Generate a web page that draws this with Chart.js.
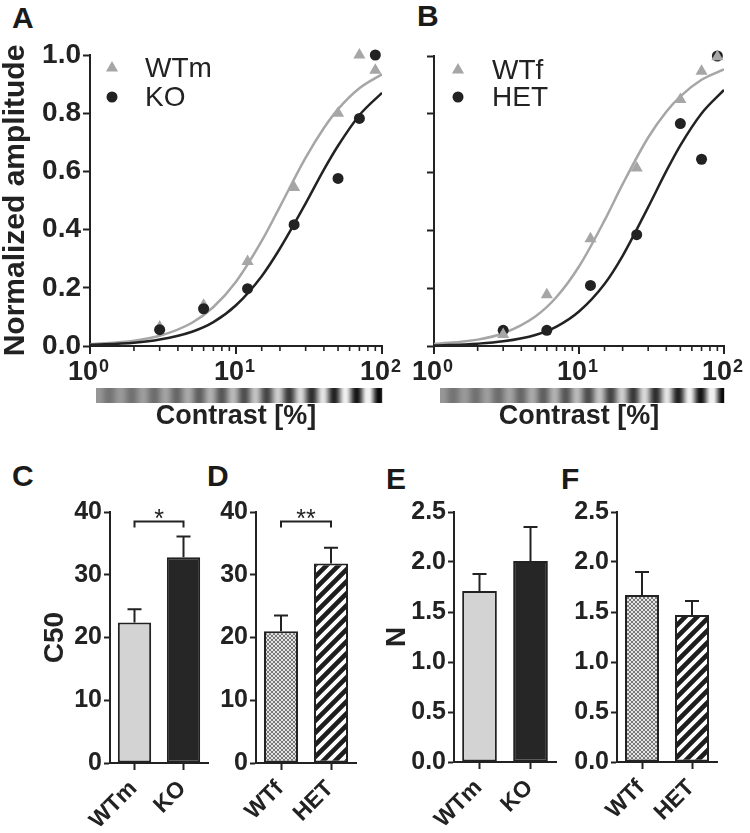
<!DOCTYPE html>
<html>
<head>
<meta charset="utf-8">
<script src="https://cdn.jsdelivr.net/npm/chart.js@4.4.0/dist/chart.umd.min.js"></script>
<style>
  body { margin: 0; background: #fff; width: 750px; height: 833px; position: relative; overflow: hidden; font-family: "Liberation Sans", Arial, sans-serif; }
  canvas { position: absolute; }
  .panel { position: absolute; font-weight: bold; font-size: 30px; line-height: 1; color: #1a1a1a; }
</style>
</head>
<body>
<div class="panel" style="left:12px;top:3px">A</div>
<div class="panel" style="left:417px;top:1px">B</div>
<div class="panel" style="left:12px;top:461px">C</div>
<div class="panel" style="left:207px;top:461px">D</div>
<div class="panel" style="left:386px;top:464px">E</div>
<div class="panel" style="left:561px;top:464px">F</div>

<canvas id="chartA" width="405" height="445" style="left:0;top:0"></canvas>
<canvas id="chartB" width="345" height="445" style="left:405px;top:0"></canvas>
<canvas id="chartC" width="215" height="378" style="left:0;top:455px"></canvas>
<canvas id="chartD" width="150" height="378" style="left:215px;top:455px"></canvas>
<canvas id="chartE" width="195" height="378" style="left:370px;top:455px"></canvas>
<canvas id="chartF" width="185" height="378" style="left:565px;top:455px"></canvas>

<script>
Chart.defaults.font.family = '"Liberation Sans", Arial, sans-serif';
Chart.defaults.color = '#222';

// contrast response data (A, B)
const contrast = [3, 6, 12, 25, 50, 70, 90];
const wtmAmp = [0.065, 0.14, 0.29, 0.545, 0.80, 1.0, 0.948];
const koAmp = [0.056, 0.128, 0.197, 0.417, 0.576, 0.782, 1.0];
const wtfAmp = [0.04, 0.177, 0.37, 0.614, 0.85, 0.947, 0.997];
const hetAmp = [0.054, 0.054, 0.209, 0.384, 0.767, 0.644, 1.0];

// fitted curves
const fitX = [1, 2, 3, 5, 7, 10, 15, 20, 30, 40, 50, 70, 100];
const wtmFit = [0.006, 0.018, 0.035, 0.080, 0.134, 0.221, 0.361, 0.479, 0.647, 0.749, 0.814, 0.886, 0.934];
const koFit = [0.004, 0.011, 0.022, 0.049, 0.082, 0.140, 0.240, 0.335, 0.490, 0.606, 0.688, 0.793, 0.870];
const wtfFit = [0.007, 0.022, 0.044, 0.102, 0.169, 0.274, 0.433, 0.558, 0.719, 0.808, 0.861, 0.918, 0.954];
const hetFit = [0.002, 0.008, 0.016, 0.038, 0.067, 0.119, 0.214, 0.311, 0.479, 0.603, 0.692, 0.802, 0.883];

// bar data (C-F)
const maleLabels = ['WTm', 'KO'];
const femaleLabels = ['WTf', 'HET'];
const c50Male = [22.4, 32.8];
const c50MaleErr = [2.1, 3.3];
const c50Female = [21.0, 31.8];
const c50FemaleErr = [2.5, 2.5];
const nMale = [1.71, 2.01];
const nMaleErr = [0.17, 0.34];
const nFemale = [1.67, 1.47];
const nFemaleErr = [0.23, 0.14];

const DARK = '#222';
const GRAY = '#a6a6a6';
const FONT = '"Liberation Sans", Arial, sans-serif';

function pts(xs, ys) {
    return xs.map((x, i) => ({ x: x, y: ys[i] }));
}

function decade(v) {
    const e = Math.log10(v);
    return Math.abs(e - Math.round(e)) < 1e-6 ? Math.round(e) : null;
}

// short minor ticks, longer decade ticks and 10^n labels on the log axis
const logTicks = {
    id: 'logTicks',
    afterDraw(chart) {
        const s = chart.scales.x;
        const ctx = chart.ctx;
        ctx.save();
        ctx.strokeStyle = DARK;
        ctx.fillStyle = DARK;
        s.ticks.forEach(t => {
            const e = decade(t.value);
            const x = s.getPixelForValue(t.value);
            ctx.lineWidth = e !== null ? 2 : 1.6;
            ctx.beginPath();
            ctx.moveTo(x, s.top);
            ctx.lineTo(x, s.top + (e !== null ? 8 : 5));
            ctx.stroke();
            if (e !== null) {
                ctx.textBaseline = 'alphabetic';
                ctx.font = 'bold 27px ' + FONT;
                ctx.textAlign = 'right';
                ctx.fillText('10', x + 8, s.top + 34);
                ctx.font = 'bold 18px ' + FONT;
                ctx.textAlign = 'left';
                ctx.fillText(String(e), x + 9, s.top + 26);
            }
        });
        ctx.restore();
    }
};

// the contrast grating strip under the axis
const grating = {
    id: 'grating',
    afterDraw(chart) {
        const { ctx, chartArea } = chart;
        const x0 = chartArea.left + 6;
        const x1 = chartArea.right;
        const y0 = chartArea.bottom + 42;
        for (let x = x0; x < x1; x++) {
            const t = (x - x0) / (x1 - x0);
            const amp = 0.14 + 0.95 * Math.pow(t, 1.6);
            let v = 0.55 + 0.5 * amp * Math.sin(2 * Math.PI * (x - x0) / 22.5 + 1.2);
            v = Math.max(0, Math.min(1, v));
            const g = Math.round(v * 235 + 5);
            ctx.fillStyle = `rgb(${g},${g},${g})`;
            ctx.fillRect(x, y0, 1.2, 15);
        }
    }
};

const legendItems = {
    id: 'legendItems',
    afterDraw(chart, args, opts) {
        if (!opts.items) return;
        const { ctx, chartArea } = chart;
        ctx.save();
        ctx.font = '28px ' + FONT;
        ctx.textBaseline = 'middle';
        opts.items.forEach((i, k) => {
            const ds = chart.data.datasets[i];
            const x = chartArea.left + opts.left;
            const y = chartArea.top + opts.top + k * opts.gap;
            ctx.fillStyle = ds.backgroundColor;
            Chart.helpers.drawPoint(ctx, { pointStyle: ds.pointStyle, radius: ds.pointRadius, borderWidth: 0, rotation: 0 }, x, y);
            ctx.fillStyle = DARK;
            ctx.fillText(ds.label, x + opts.textOffset, y + 1);
        });
        ctx.restore();
    }
};

function curveChart(id, names, amps, fits, opts) {
    const pointSets = [
        { label: names[0], data: pts(contrast, amps[0]), pointStyle: 'triangle', pointRadius: 7, backgroundColor: GRAY, borderWidth: 0, clip: false, order: opts.order[0] },
        { label: names[1], data: pts(contrast, amps[1]), pointStyle: 'circle', pointRadius: 5.5, backgroundColor: DARK, borderWidth: 0, clip: false, order: opts.order[1] }
    ];
    const lineSets = [
        { label: names[0] + ' fit', data: pts(fitX, fits[0]), showLine: true, pointRadius: 0, borderColor: GRAY, borderWidth: 2.5, cubicInterpolationMode: 'monotone', order: 4 },
        { label: names[1] + ' fit', data: pts(fitX, fits[1]), showLine: true, pointRadius: 0, borderColor: DARK, borderWidth: 2.5, cubicInterpolationMode: 'monotone', order: 3 }
    ];
    return new Chart(document.getElementById(id), {
        type: 'scatter',
        data: { datasets: pointSets.concat(lineSets) },
        options: {
            responsive: false,
            animation: false,
            devicePixelRatio: 1,
            layout: { padding: { left: 0, top: opts.top, right: opts.right, bottom: 0 } },
            plugins: {
                legend: { display: false },
                tooltip: { enabled: false },
                legendItems: opts.legend
            },
            scales: {
                x: {
                    type: 'logarithmic',
                    min: 1,
                    max: 100,
                    afterFit: s => { s.height = 99; },
                    border: { color: DARK, width: 2 },
                    grid: { drawOnChartArea: false, drawTicks: false },
                    ticks: { display: false, autoSkip: false },
                    title: { display: true, text: 'Contrast [%]', color: DARK, font: { size: 27, weight: 'bold' }, padding: { top: 0, bottom: 12 } }
                },
                y: {
                    min: 0,
                    max: 1,
                    afterFit: s => { s.width = opts.yWidth; },
                    border: { color: DARK, width: 2 },
                    grid: { drawOnChartArea: false, tickLength: 7, tickColor: DARK, tickWidth: 2 },
                    ticks: { stepSize: 0.2, padding: 2, color: DARK, font: { size: 28, weight: 'bold' }, callback: v => opts.yLabels ? v.toFixed(1) : '' },
                    title: { display: opts.yLabels, text: 'Normalized amplitude', color: DARK, font: { size: 30, weight: 'bold' }, padding: { top: -2, bottom: 0 } }
                }
            }
        },
        plugins: [logTicks, grating, legendItems]
    });
}

curveChart('chartA', ['WTm', 'KO'], [wtmAmp, koAmp], [wtmFit, koFit], {
    top: 55, right: 23, yWidth: 90, yLabels: true, order: [2, 1],
    legend: { items: [0, 1], left: 22, top: 13, gap: 29, textOffset: 33 }
});
curveChart('chartB', ['WTf', 'HET'], [wtfAmp, hetAmp], [wtfFit, hetFit], {
    top: 56, right: 26, yWidth: 29, yLabels: false, order: [1, 2],
    legend: { items: [0, 1], left: 24, top: 14, gap: 27, textOffset: 34 }
});

// bar panels
function checker() {
    const c = document.createElement('canvas');
    c.width = 4; c.height = 4;
    const g = c.getContext('2d');
    g.fillStyle = '#e4e4e4';
    g.fillRect(0, 0, 4, 4);
    g.fillStyle = '#7a7a7a';
    g.fillRect(0, 0, 2, 2);
    g.fillRect(2, 2, 2, 2);
    return g.createPattern(c, 'repeat');
}

function stripes() {
    const s = 12;
    const c = document.createElement('canvas');
    c.width = s; c.height = s;
    const g = c.getContext('2d');
    g.fillStyle = '#1e1e1e';
    g.fillRect(0, 0, s, s);
    g.strokeStyle = '#fff';
    g.lineWidth = 3.8;
    g.beginPath();
    g.moveTo(0, s); g.lineTo(s, 0);
    g.moveTo(-2, 2); g.lineTo(2, -2);
    g.moveTo(s - 2, s + 2); g.lineTo(s + 2, s - 2);
    g.stroke();
    return g.createPattern(c, 'repeat');
}

const errorBars = {
    id: 'errorBars',
    afterDatasetsDraw(chart) {
        const ctx = chart.ctx;
        const y = chart.scales.y;
        chart.data.datasets.forEach((ds, di) => {
            chart.getDatasetMeta(di).data.forEach((bar, i) => {
                const top = y.getPixelForValue(ds.data[i] + ds.errors[i]);
                ctx.save();
                ctx.strokeStyle = DARK;
                ctx.lineWidth = 2;
                ctx.beginPath();
                ctx.moveTo(bar.x, bar.y);
                ctx.lineTo(bar.x, top);
                ctx.moveTo(bar.x - 7, top);
                ctx.lineTo(bar.x + 7, top);
                ctx.stroke();
                ctx.restore();
            });
        });
    }
};

const brackets = {
    id: 'brackets',
    afterDatasetsDraw(chart, args, opts) {
        if (!opts.items) return;
        const ctx = chart.ctx;
        opts.items.forEach(b => {
            const x0 = chart.scales.x.getPixelForValue(b.from);
            const x1 = chart.scales.x.getPixelForValue(b.to);
            const yb = chart.scales.y.getPixelForValue(b.y);
            ctx.save();
            ctx.strokeStyle = DARK;
            ctx.lineWidth = 2;
            ctx.beginPath();
            ctx.moveTo(x0, yb + 6);
            ctx.lineTo(x0, yb);
            ctx.lineTo(x1, yb);
            ctx.lineTo(x1, yb + 6);
            ctx.stroke();
            ctx.fillStyle = DARK;
            ctx.font = '25px ' + FONT;
            ctx.textAlign = 'center';
            ctx.textBaseline = 'alphabetic';
            ctx.fillText(b.text, (x0 + x1) / 2, yb + 6);
            ctx.restore();
        });
    }
};

// category names under the bars, turned 45 degrees
const slantLabels = {
    id: 'slantLabels',
    afterDraw(chart) {
        const ctx = chart.ctx;
        const s = chart.scales.x;
        ctx.save();
        ctx.fillStyle = DARK;
        ctx.font = 'bold 23px ' + FONT;
        ctx.textAlign = 'right';
        ctx.textBaseline = 'middle';
        chart.data.labels.forEach((label, i) => {
            const x = s.getPixelForValue(i);
            ctx.save();
            ctx.translate(x - 1, s.top + 22);
            ctx.rotate(-Math.PI / 4);
            ctx.fillText(label, 0, 0);
            ctx.restore();
        });
        ctx.restore();
    }
};

function barChart(id, labels, values, errs, colors, o) {
    return new Chart(document.getElementById(id), {
        type: 'bar',
        data: {
            labels: labels,
            datasets: [{
                data: values,
                errors: errs,
                backgroundColor: colors,
                borderColor: DARK,
                borderWidth: 2,
                borderSkipped: false,
                barPercentage: 0.68,
                categoryPercentage: 1
            }]
        },
        options: {
            responsive: false,
            animation: false,
            devicePixelRatio: 1,
            layout: { padding: { left: 0, top: 57, right: o.right, bottom: 0 } },
            plugins: {
                legend: { display: false },
                tooltip: { enabled: false },
                brackets: { items: o.brackets }
            },
            scales: {
                x: {
                    afterFit: s => { s.height = o.xHeight; },
                    border: { color: DARK, width: 2 },
                    grid: { offset: false, drawOnChartArea: false, tickLength: 7, tickColor: DARK, tickWidth: 2 },
                    ticks: { display: false }
                },
                y: {
                    min: 0,
                    max: o.max,
                    afterFit: s => { s.width = o.yWidth; },
                    border: { color: DARK, width: 2 },
                    grid: { drawOnChartArea: false, tickLength: 6, tickColor: DARK, tickWidth: 2 },
                    ticks: { stepSize: o.step, padding: 2, color: DARK, font: { size: 25, weight: 'bold' }, callback: v => o.step < 1 ? v.toFixed(1) : v },
                    title: { display: !!o.title, text: o.title, color: DARK, font: { size: 28, weight: 'bold' }, padding: { top: o.titlePad || 0, bottom: 0 } }
                }
            }
        },
        plugins: [errorBars, brackets, slantLabels]
    });
}

const solid = ['#d3d3d3', '#262626'];
const hatched = [checker(), stripes()];

barChart('chartC', maleLabels, c50Male, c50MaleErr, solid, {
    max: 40, step: 10, yWidth: 110, right: 7, xHeight: 70, title: 'C50', titlePad: 38,
    brackets: [{ from: 0, to: 1, y: 38.5, text: '*' }]
});
barChart('chartD', femaleLabels, c50Female, c50FemaleErr, hatched, {
    max: 40, step: 10, yWidth: 41, right: 9, xHeight: 70,
    brackets: [{ from: 0, to: 1, y: 38.5, text: '**' }]
});
barChart('chartE', maleLabels, nMale, nMaleErr, solid, {
    max: 2.5, step: 0.5, yWidth: 84, right: 9, xHeight: 71, title: 'N', titlePad: 10
});
barChart('chartF', femaleLabels, nFemale, nFemaleErr, hatched, {
    max: 2.5, step: 0.5, yWidth: 52, right: 33, xHeight: 71
});
</script>
</body>
</html>
